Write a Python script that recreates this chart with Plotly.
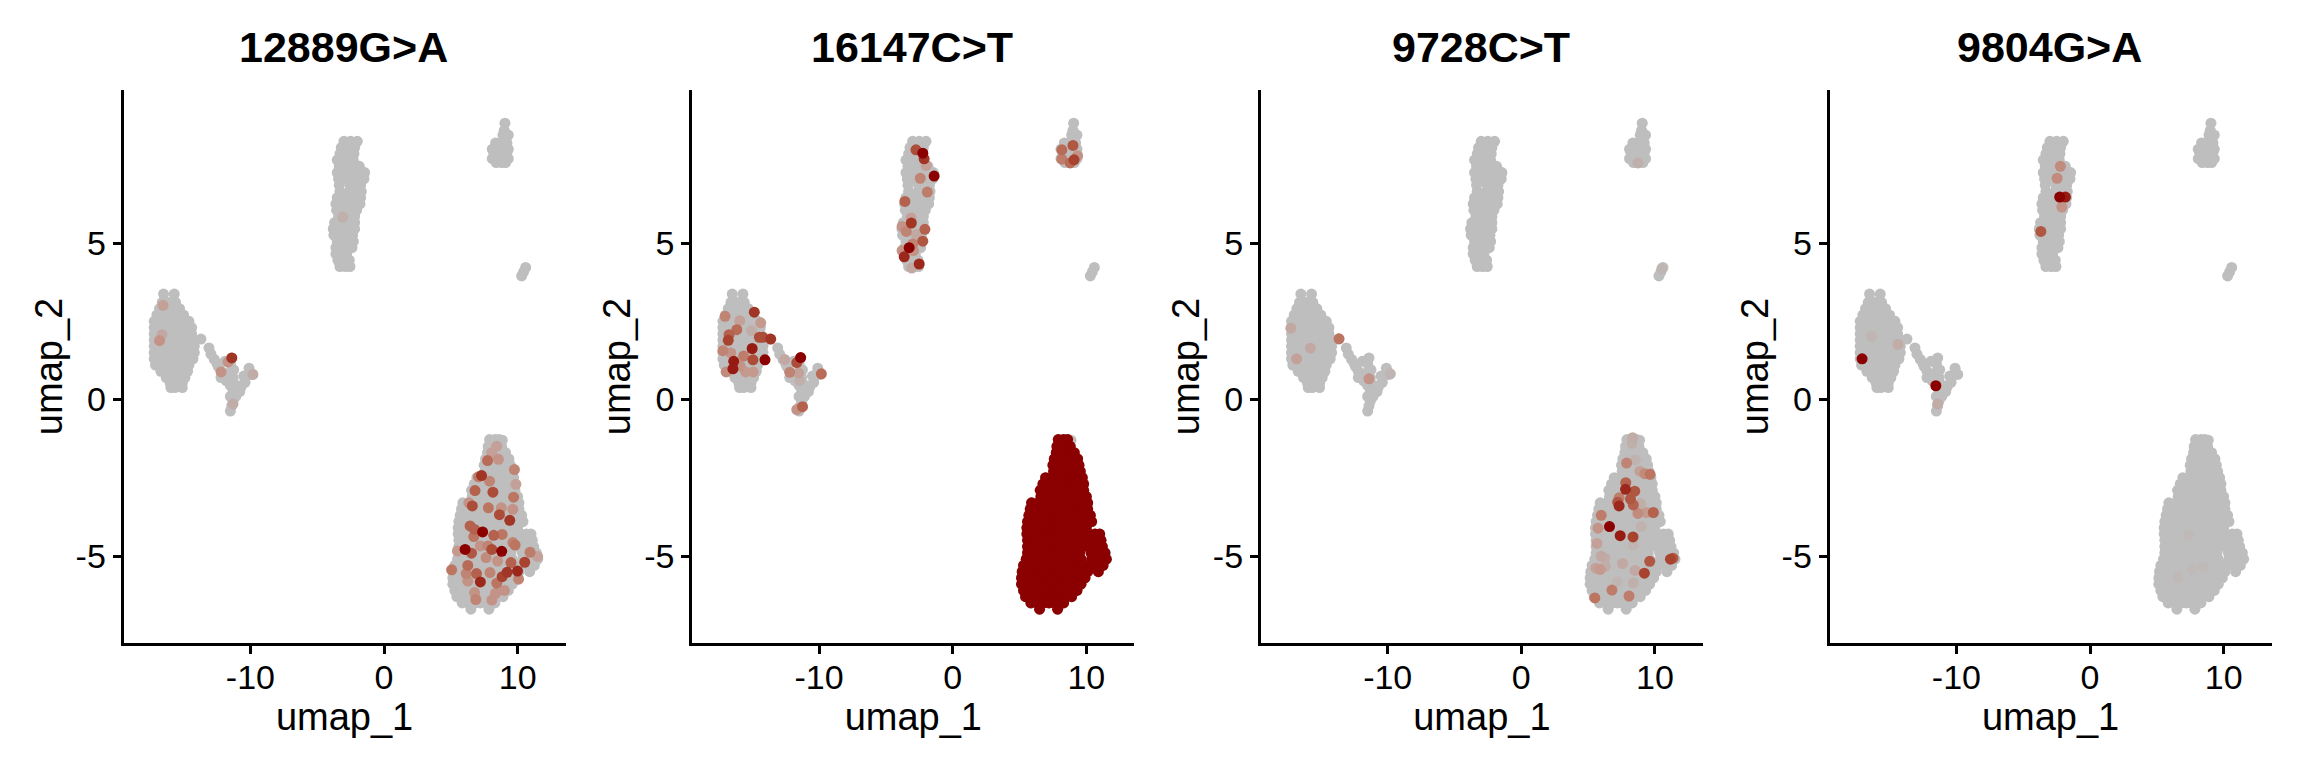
import plotly.graph_objects as go

titles = ["12889G>A", "16147C>T", "9728C>T", "9804G>A"]

# umap cells: one y per row, then the x values on that row
main_y = [-1.28, -1.5, -1.7, -1.9, -2.1, -2.3, -2.5, -2.7, -2.9, -3.1, -3.3, -3.5, -3.7, -3.9, -4.1, -4.3,
          -4.5, -4.7, -4.9, -5.1, -5.3, -5.5, -5.7, -5.9, -6.1, -6.3, -6.5, -6.7]
main_x = [
    [7.9, 8.3, 8.6],
    [7.8, 8.3, 8.8],
    [7.75, 8.3, 8.8, 9.1],
    [7.6, 8.1, 8.6, 9.1, 9.35],
    [7.5, 8.0, 8.5, 9.0, 9.45],
    [7.55, 8.0, 8.5, 9.0, 9.55],
    [6.95, 7.4, 7.9, 8.4, 8.9, 9.4, 9.7],
    [6.75, 7.3, 7.8, 8.3, 8.8, 9.3, 9.8],
    [6.55, 7.1, 7.6, 8.1, 8.6, 9.1, 9.8],
    [6.6, 7.1, 7.6, 8.1, 8.6, 9.1, 9.6, 10.0],
    [5.9, 6.4, 6.9, 7.4, 7.9, 8.4, 8.9, 9.4, 10.1],
    [5.8, 6.3, 6.8, 7.3, 7.8, 8.3, 8.8, 9.3, 9.8, 10.1],
    [5.7, 6.2, 6.7, 7.2, 7.7, 8.2, 8.7, 9.2, 9.7, 10.3],
    [5.6, 6.1, 6.6, 7.1, 7.6, 8.1, 8.6, 9.1, 9.6, 10.1, 10.4],
    [5.55, 6.0, 6.5, 7.0, 7.5, 8.0, 8.5, 9.0, 9.5, 10.0],
    [5.55, 6.1, 6.6, 7.1, 7.6, 8.1, 8.6, 9.1, 9.7, 10.2, 10.65, 11.0],
    [5.6, 6.0, 6.5, 7.0, 7.5, 8.0, 8.5, 9.0, 9.4, 9.9, 10.5, 10.9, 11.1],
    [5.6, 6.1, 6.6, 7.1, 7.6, 8.1, 8.6, 9.1, 9.6, 10.1, 10.6, 11.2],
    [5.6, 6.0, 6.5, 7.0, 7.5, 8.0, 8.5, 9.0, 9.5, 10.35, 10.9, 11.4],
    [5.5, 6.1, 6.6, 7.1, 7.6, 8.1, 8.6, 9.1, 9.6, 10.4, 11.0, 11.5],
    [5.3, 5.9, 6.4, 6.9, 7.4, 7.9, 8.4, 8.9, 9.4, 9.9, 10.3, 10.8, 11.25],
    [5.2, 5.7, 6.2, 6.7, 7.2, 7.7, 8.2, 8.7, 9.2, 9.7, 10.1, 10.9],
    [5.15, 5.9, 6.4, 6.9, 7.4, 7.9, 8.4, 8.9, 9.4, 9.9],
    [5.15, 5.7, 6.2, 6.7, 7.2, 7.7, 8.2, 8.7, 9.2, 9.6],
    [5.3, 5.9, 6.4, 6.9, 7.4, 7.9, 8.4, 8.9, 9.3],
    [5.45, 6.0, 6.5, 7.0, 7.5, 8.0, 8.5, 8.9],
    [5.85, 6.3, 6.8, 7.2, 7.6, 8.0, 8.3],
    [6.5, 7.85],
]

upper_y = [8.25, 8.05, 7.85, 7.65, 7.45, 7.25, 7.05, 6.85, 6.65, 6.45, 6.25, 6.05, 5.85, 5.65, 5.45, 5.25,
           5.05, 4.85, 4.65, 4.45, 4.25]
upper_x = [
    [-3.0, -2.5, -2.0],
    [-3.2, -2.7, -2.2],
    [-3.3, -2.8, -2.25],
    [-3.5, -3.0, -2.5, -2.3],
    [-3.35, -2.8, -2.3, -1.85],
    [-3.5, -3.0, -2.5, -2.0, -1.45],
    [-3.4, -2.9, -2.4, -1.9, -1.5],
    [-3.35, -2.55, -2.05, -1.75],
    [-3.3, -2.6, -2.1, -1.7],
    [-3.5, -3.0, -2.5, -2.0, -1.75],
    [-3.6, -3.1, -2.6, -2.1, -1.8],
    [-3.55, -3.05, -2.55, -2.05],
    [-3.4, -2.9, -2.5, -2.2],
    [-3.7, -3.2, -2.7, -2.2],
    [-3.8, -3.3, -2.8, -2.2],
    [-3.75, -3.2, -2.7, -2.35],
    [-3.5, -3.0, -2.5, -2.3],
    [-3.6, -3.1, -2.7, -2.4],
    [-3.6, -3.15, -2.8],
    [-3.45, -3.0, -2.6],
    [-3.3, -2.9, -2.55],
]

right_y = [8.83, 8.6, 8.45, 8.2, 8.0, 7.9, 7.78, 7.7, 7.57, 4.22, 4.08, 3.95]
right_x = [
    [9.05],
    [9.0],
    [8.9, 9.15, 9.3],
    [8.35, 8.75, 9.2],
    [8.1, 8.6, 9.0, 9.3],
    [8.2, 8.7, 9.2],
    [8.4, 8.9],
    [8.1, 8.6, 9.0, 9.3],
    [8.4, 8.8, 9.1],
    [10.6],
    [10.45],
    [10.3],
]

left_y = [3.37, 3.1, 2.9, 2.7, 2.5, 2.3, 2.1, 1.9, 1.7, 1.5, 1.3, 1.1, 0.9, 0.7, 0.52, 0.38]
left_x = [
    [-16.5, -15.7],
    [-16.6, -16.1, -15.6],
    [-16.8, -16.3, -15.8, -15.3],
    [-17.0, -16.5, -16.0, -15.5, -15.0],
    [-17.2, -16.6, -16.1, -15.6, -15.1, -14.6],
    [-17.2, -16.6, -16.1, -15.6, -15.1, -14.4],
    [-17.2, -16.6, -16.1, -15.6, -15.1, -14.4],
    [-17.2, -16.6, -16.1, -15.6, -15.1, -14.6, -14.2],
    [-17.2, -16.6, -16.1, -15.6, -15.1, -14.6, -14.2],
    [-17.2, -16.6, -16.1, -15.6, -15.1, -14.6, -14.2],
    [-17.2, -16.6, -16.1, -15.6, -15.1, -14.6, -14.3],
    [-17.1, -16.5, -16.0, -15.5, -15.0, -14.6],
    [-16.7, -16.2, -15.7, -15.2, -14.7],
    [-16.3, -15.8, -15.3, -14.9],
    [-16.0, -15.6, -15.1],
    [-15.95, -15.65, -15.1],
]

tail_x = [-13.7, -13.1, -12.95, -12.7, -12.5, -12.4, -12.2, -12.0, -11.8, -11.5, -11.3, -11.5, -11.1, -11.3, -11.0, -11.4,
          -11.5, -10.7, -10.4, -10.1, -9.9, -10.1, -11.5, -11.4, -11.9, -11.6, -12.2, -11.3, -11.0, -10.8, -10.5, -11.25]
tail_y = [1.93, 1.65, 1.45, 1.28, 1.15, 1.05, 0.9, 0.75, 0.6, 0.45, 0.25, 0.1, 0.1, -0.05, 0.3, -0.2,
          -0.37, 0.4, 0.55, 0.8, 0.8, 1.0, 1.15, 1.33, 1.22, 0.85, 0.7, 0.7, 0.45, 0.25, 0.75, 0.95]

# the one cell that stays grey at the top of the dark cluster in 16147C>T
lone_x = [8.85]
lone_y = [-1.3]

# expressing cells per variant: x, y, level from 0 (grey) to 1 (dark red)
x_12889 = [-16.54, -16.62, -16.8, -11.39, -11.67, -12.19, -9.81, -3.09, -11.3,
           8.44, 8.07, 7.75, 8.56, 9.76, 7.07, 7.3, 7.9, 9.87, 6.81, 8.15, 9.7, 6.35, 6.61, 7.81, 8.78, 9.64, 8.64,
           9.41, 6.44, 6.78, 7.38, 8.21, 8.84, 6.72, 9.64, 9.81, 6.07, 8.81, 8.07, 6.55, 7.21, 7.78, 5.49, 7.64, 8.5,
           9.5, 10.93, 11.5, 10.53, 6.27, 5.06, 6.15, 6.92, 7.93, 9.21, 8.84, 9.99, 10.07, 7.21, 6.27, 8.44, 6.78,
           9.01, 8.35, 6.87, 8.07]
y_12889 = [3.01, 2.07, 1.88, 1.33, 1.2, 0.88, 0.8, 5.83, -0.14,
           -1.49, -1.7, -1.95, -1.91, -2.24, -2.47, -2.43, -2.61, -2.71, -2.91, -2.96, -3.12, -3.3, -3.4, -3.46, -3.46,
           -3.51, -3.68, -3.86, -4.04, -4.15, -4.23, -4.34, -4.31, -4.38, -4.57, -4.65, -4.79, -4.85, -4.79, -4.91,
           -4.68, -4.68, -4.84, -5.05, -5.16, -5.21, -4.88, -5.02, -5.2, -5.3, -5.44, -5.56, -5.56, -5.53, -5.52,
           -5.66, -5.48, -5.74, -5.83, -5.8, -5.87, -6.17, -6.1, -6.19, -6.39, -6.41]
v_12889 = [0.2, 0.15, 0.3, 0.8, 0.3, 0.3, 0.12, 0.1, 0.12,
           0.2, 0.2, 0.55, 0.3, 0.4, 0.45, 0.8, 0.4, 0.2, 0.6, 0.7, 0.5, 0.3, 0.7, 0.5, 0.3, 0.3, 0.7,
           0.8, 0.6, 0.6, 1.0, 0.6, 0.5, 0.5, 0.4, 0.5, 1.0, 1.0, 0.7, 0.65, 0.3, 0.4, 0.25, 0.35, 0.3,
           0.6, 0.45, 0.2, 0.75, 0.55, 0.5, 0.4, 0.6, 0.4, 0.8, 0.75, 0.85, 0.4, 0.85, 0.3, 0.5, 0.3,
           0.3, 0.3, 0.4, 0.3]

x_16147 = [-2.75, -2.24, -2.14, -1.98, -2.43, -1.39, -1.9, -3.58, -3.1, -3.12, -3.79, -3.47, -2.08, -2.72, -2.24,
           -2.99, -3.26, -3.79, -2.94, -3.63, -2.51, -3.07,
           9.0, 8.17, 9.35, 9.08, 8.17, 8.79,
           -14.85, -17.04, -15.94, -14.37, -16.16, -15.06, -16.74, -16.8, -14.47, -14.21, -13.62, -15.01, -17.2,
           -16.61, -15.65, -16.39, -14.95, -14.05, -15.91, -16.45, -16.96, -15.49, -14.93,
           -11.38, -11.67, -12.58, -12.2, -11.54, -9.83, -11.46, -11.24, -11.67]
y_16147 = [7.98, 7.87, 7.69, 7.48, 7.07, 7.14, 6.63, 6.33, 5.64, 5.8, 5.53, 5.37, 5.44, 5.27, 5.06,
           4.97, 4.85, 4.76, 4.76, 4.56, 4.33, 4.2,
           8.12, 7.98, 7.79, 7.66, 7.68, 7.56,
           2.79, 2.66, 2.52, 2.45, 2.23, 2.2, 2.07, 1.89, 1.99, 1.99, 1.93, 1.63, 1.56,
           1.49, 1.39, 1.22, 1.27, 1.27, 1.07, 0.98, 0.88, 0.88, 0.88,
           1.34, 1.18, 1.28, 0.87, 0.85, 0.82, 0.61, -0.23, -0.32]
v_16147 = [0.7, 1.0, 0.8, 0.2, 0.4, 1.0, 0.45, 0.6, 0.8, 0.2, 0.3, 0.4, 0.6, 0.15, 0.65,
           0.4, 1.0, 0.3, 0.3, 0.85, 0.85, 0.15,
           0.65, 0.55, 0.3, 0.75, 0.45, 0.55,
           0.8, 0.4, 0.2, 0.25, 0.55, 0.12, 0.6, 0.75, 0.7, 0.7, 0.8, 0.9, 0.4,
           0.3, 0.45, 0.9, 0.7, 1.0, 0.3, 0.9, 0.35, 0.25, 0.25,
           1.0, 0.7, 0.15, 0.4, 0.2, 0.55, 0.1, 0.6, 0.3]

x_9728 = [-17.25, -13.64, -15.78, -16.82, -11.4, -9.8, 8.73, 10.52,
          8.33, 8.28, 8.52, 7.88, 8.87, 9.24, 9.64, 7.82, 8.49, 7.8, 7.32, 8.17, 7.21, 7.32, 8.92, 8.38, 8.73, 9.37,
          9.88, 5.98, 8.97, 5.74, 6.6, 7.4, 8.36, 5.66, 8.38, 5.98, 6.25, 9.61, 11.16, 11.35, 7.58, 6.3, 5.58, 5.9,
          8.52, 9.21, 7.18, 8.38, 6.78, 8.06, 5.5]
y_9728 = [2.28, 1.94, 1.64, 1.3, 0.66, 0.82, 7.56, 4.18,
          -1.22, -1.4, -1.93, -2.03, -2.29, -2.37, -2.39, -2.66, -2.93, -2.87, -3.14, -3.18, -3.28, -3.4, -3.33, -3.37,
          -3.64, -3.61, -3.61, -3.7, -4.06, -4.11, -4.06, -4.35, -4.39, -4.6, -4.65, -5.01, -5.07, -5.17, -5.1, -5.07,
          -5.24, -5.33, -5.39, -5.43, -5.46, -5.55, -5.83, -5.86, -6.09, -6.28, -6.34]
v_9728 = [0.15, 0.5, 0.15, 0.2, 0.3, 0.06, 0.1, 0.06,
          0.12, 0.1, 0.08, 0.4, 0.2, 0.35, 0.5, 0.6, 0.65, 0.85, 0.45, 0.65, 0.65, 0.85, 0.12, 0.6, 0.35, 0.25,
          0.6, 0.45, 0.08, 0.3, 1.0, 0.9, 0.75, 0.2, 0.06, 0.15, 0.12, 0.65, 0.75, 0.65, 0.15, 0.12, 0.2, 0.25,
          0.15, 0.75, 0.06, 0.1, 0.45, 0.45, 0.5]

x_9804 = [-17.06, -16.34, -14.37, -11.54, -11.4, -2.22, -2.46, -2.27, -1.84, -2.11, -3.68, 7.37, 7.64, 8.44, 6.57]
y_9804 = [1.3, 2.02, 1.76, 0.44, -0.14, 7.45, 7.07, 6.47, 6.47, 6.15, 5.37, -4.34, -5.43, -5.35, -5.69]
v_9804 = [1.0, 0.06, 0.12, 1.0, 0.12, 0.35, 0.35, 1.0, 0.9, 0.3, 0.65, 0.03, 0.03, 0.03, 0.04]

x_ticks = [-10, 0, 10]
x_labels = ["-10", "0", "10"]
y_ticks = [-5, 0, 5]
y_labels = ["-5", "0", "5"]


def flatten(rows_y, rows_x):
    xs, ys = [], []
    for y, row in zip(rows_y, rows_x):
        for x in row:
            xs.append(x)
            ys.append(y)
    return xs, ys


main_cx, main_cy = flatten(main_y, main_x)
upper_cx, upper_cy = flatten(upper_y, upper_x)
right_cx, right_cy = flatten(right_y, right_x)
left_cx, left_cy = flatten(left_y, left_x)
grey_x = main_cx + upper_cx + right_cx + left_cx + tail_x + lone_x
grey_y = main_cy + upper_cy + right_cy + left_cy + tail_y + lone_y

# ggplot goes grey to darkred through Lab, a straight RGB ramp looks too muddy
scale = [[0, "#BEBEBE"], [0.25, "#C49A8F"], [0.5, "#BC7561"], [0.75, "#A8432F"], [1, "#8B0000"]]

W, H = 2304, 768
# the page has an 8px body margin, so everything sits 8px up and left of the target position
left_px = [115.6, 684.3, 1252.9, 1821.6]
panel_w = 442
top_px, bottom_px = 82, 635

fig = go.Figure()
font = "Liberation Sans"


def dots(panel, xs, ys, vs):
    # highest level drawn last, like order=TRUE
    order = sorted(range(len(vs)), key=lambda i: vs[i])
    fig.add_trace(go.Scatter(
        x=[xs[i] for i in order], y=[ys[i] for i in order], mode="markers",
        xaxis="x" if panel == 0 else "x%d" % (panel + 1),
        yaxis="y" if panel == 0 else "y%d" % (panel + 1),
        marker=dict(size=11, color=[vs[i] for i in order], colorscale=scale, cmin=0, cmax=1, line=dict(width=0)),
        showlegend=False, hoverinfo="skip",
    ))


expressed = [(x_12889, y_12889, v_12889), (x_16147, y_16147, v_16147), (x_9728, y_9728, v_9728), (x_9804, y_9804, v_9804)]
for p, (ex, ey, ev) in enumerate(expressed):
    dots(p, grey_x, grey_y, [0] * len(grey_x))
    if p == 1:
        dots(p, main_cx, main_cy, [1] * len(main_cx))
    dots(p, ex, ey, ev)

layout = dict(
    width=W, height=H, margin=dict(l=0, r=0, t=0, b=0), paper_bgcolor="white", plot_bgcolor="white",
    font=dict(family=font, color="black"), annotations=[],
)
for p in range(4):
    sfx = "" if p == 0 else str(p + 1)
    common = dict(
        showgrid=False, zeroline=False, showline=True, linecolor="black", linewidth=3,
        ticks="outside", ticklen=8, tickwidth=3, tickcolor="black", tickfont=dict(size=34, family=font, color="black"),
        automargin=False,
    )
    layout["xaxis" + sfx] = dict(
        common, domain=[left_px[p] / W, (left_px[p] + panel_w) / W], range=[-19.49, 13.59],
        tickvals=x_ticks, ticktext=x_labels, anchor="y" + sfx, ticklabelstandoff=-6,
        title=dict(text="umap_1", font=dict(size=38, family=font, color="black"), standoff=6),
    )
    layout["yaxis" + sfx] = dict(
        common, domain=[1 - bottom_px / H, 1 - top_px / H], range=[-7.78, 9.89],
        tickvals=y_ticks, ticktext=y_labels, anchor="x" + sfx,
        title=dict(text="umap_2", font=dict(size=38, family=font, color="black"), standoff=2),
    )
    layout["annotations"].append(dict(
        text="<b>%s</b>" % titles[p], xref="paper", yref="paper", showarrow=False,
        x=((left_px[p] + panel_w / 2) - 1) / W, y=1 - 39 / H, xanchor="center", yanchor="middle",
        font=dict(size=43, family=font, color="black"),
    ))

fig.update_layout(**layout)
fig.write_html("out.html")
